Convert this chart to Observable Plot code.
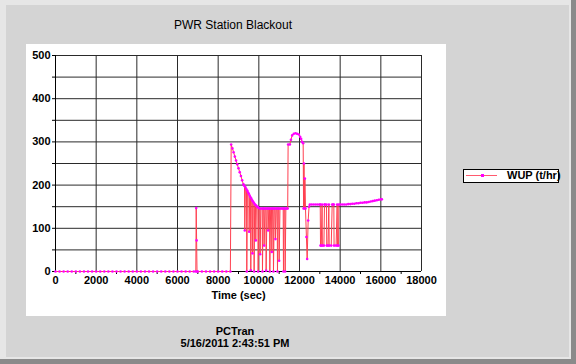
<!DOCTYPE html>
<html><head><meta charset="utf-8">
<script src="https://cdn.jsdelivr.net/npm/d3@7"></script>
<script src="https://cdn.jsdelivr.net/npm/@observablehq/plot@0.6"></script>
<style>
html,body{margin:0;padding:0;width:576px;height:364px;overflow:hidden;background:#8a8a8a;font-family:"Liberation Sans",Arial,sans-serif;color:#000;}
.abs{position:absolute;}
#outer{left:0;top:0;width:571px;height:359px;background:#e6e6e6;}
#panel{left:6px;top:5px;width:563px;height:352px;background:#d4d4d4;}
#white{left:26px;top:44px;width:420px;height:272px;background:#fff;}
#chart{left:26px;top:44px;}
#title{left:133px;width:200px;top:18px;text-align:center;font-size:12px;}
#legend{left:463px;top:169px;width:94px;height:12px;border:1px solid #000;background:#fff;}
#legend .ln{position:absolute;left:2px;top:5px;width:31px;height:1px;background:#ff5a6e;}
#legend .mk{position:absolute;left:17px;top:4px;width:3px;height:3px;background:#ff00ff;}
#legend .tx{position:absolute;left:43px;top:-1px;font-size:11px;font-weight:bold;white-space:nowrap;}
#footer{left:135px;width:200px;top:325px;text-align:center;font-size:11px;font-weight:bold;line-height:12px;}
</style></head>
<body>
<div id="outer" class="abs"></div>
<div id="panel" class="abs"></div>
<div id="white" class="abs"></div>
<div id="title" class="abs">PWR Station Blackout</div>
<div id="chart" class="abs"></div>
<div id="legend" class="abs"><div class="ln"></div><div class="mk"></div><div class="tx">WUP (t/hr)</div></div>
<div id="footer" class="abs">PCTran<br>5/16/2011 2:43:51 PM</div>
<script>
// [time (sec), WUP (t/hr)], by phase
const normalOperation = [[0,0],[200,0],[400,0],[600,0],[800,0],[1000,0],[1200,0],[1400,0],[1600,0],[1800,0],[2000,0],[2200,0],[2400,0],[2600,0],[2800,0],[3000,0],[3200,0],[3400,0],[3600,0],[3800,0],[4000,0],[4200,0],[4400,0],[4600,0],[4800,0],[5000,0],[5200,0],[5400,0],[5600,0],[5800,0],[6000,0],[6200,0],[6400,0],[6600,0],[6800,0],[6900,0],[6920,147],[6940,72],[6960,0],[7000,0],[7200,0],[7400,0],[7600,0],[7800,0],[8000,0],[8200,0],[8400,0],[8600,0]];
const pumpStart = [[8640,294],[8700,285],[8760,276],[8820,266],[8880,257],[8940,248],[9000,239],[9060,230],[9120,221],[9180,211],[9240,202],[9260,200]];
const cyclingA = [[9295,198],[9310,95],[9340,195],[9393,190],[9408,0],[9440,187],[9470,183],[9508,180],[9523,92],[9550,176],[9590,172],[9605,3],[9630,169],[9672,165],[9687,42],[9710,162],[9754,159],[9769,0],[9795,156],[9836,154],[9851,72],[9880,152],[9920,150],[9951,149],[9966,0],[10000,147],[10049,146],[10064,40],[10100,146],[10164,146],[10179,0],[10210,146],[10246,146],[10261,60],[10300,146],[10344,146],[10359,2],[10400,146],[10443,146],[10458,95],[10490,146],[10525,146],[10540,0],[10580,146],[10623,146],[10638,45],[10670,146],[10705,146],[10720,0],[10760,146],[10803,146],[10818,75],[10860,146],[10902,146],[10917,0],[10950,146],[10984,146],[10999,25],[11040,146],[11100,146],[11150,146],[11197,146],[11212,0],[11240,146],[11279,146],[11294,0],[11330,146],[11380,146],[11420,146]];
const hump = [[11440,294],[11525,294],[11580,305],[11639,315],[11720,319],[11803,320],[11880,319],[11967,317],[12030,312],[12082,307],[12130,300],[12180,297],[12200,146],[12220,250],[12245,146],[12265,215],[12295,146],[12340,80],[12377,29],[12426,118],[12470,150],[12508,155]];
const cyclingB = [[12600,155],[12700,155],[12800,155],[12900,155],[13000,155],[13020,155],[13033,60],[13070,60],[13110,155],[13125,60],[13200,60],[13230,155],[13250,155],[13328,155],[13340,60],[13400,60],[13443,155],[13460,60],[13560,60],[13607,155],[13650,155],[13689,155],[13700,60],[13800,60],[13852,155],[13870,60],[13920,60],[13934,155],[14000,155]];
const recovery = [[14100,155],[14200,155],[14300,155],[14400,156],[14500,156],[14600,157],[14700,157],[14800,158],[14900,158],[15000,159],[15100,159],[15200,160],[15300,160],[15400,161],[15500,162],[15600,163],[15700,164],[15800,165],[15900,166],[16000,167],[16050,167]];

const xLabelTicks = [0,2000,4000,6000,8000,10000,12000,14000,16000,18000];
const xMinorTicks = [1000,3000,5000,7000,9000,11000,13000,15000,17000];
const yLabelTicks = [0,100,200,300,400,500];
const yGridLines = [50,100,150,200,250,300,350,400,450,500];
const yMinorTicks = [50,150,250,350,450];

const data = [...normalOperation, ...pumpStart, ...cyclingA, ...hump, ...cyclingB, ...recovery]
  .map(([t, v]) => ({t, v}));

const chart = Plot.plot({
  width: 420, height: 272,
  marginLeft: 29, marginRight: 25, marginTop: 11, marginBottom: 45,
  style: {background: "transparent", fontFamily: "'Liberation Sans', Arial, sans-serif", fontSize: "11px", fontWeight: "bold", color: "#000"},
  x: {domain: [0, 18000], label: null},
  y: {domain: [0, 500], label: null},
  marks: [
    Plot.gridX(xLabelTicks.slice(1), {stroke: "#2a2a2a", strokeOpacity: 1}),
    Plot.gridY(yGridLines, {stroke: "#2a2a2a", strokeOpacity: 1}),
    Plot.axisX(xLabelTicks, {tickSize: 0, tickPadding: 5, tickFormat: d => String(d)}),
    Plot.axisX(xMinorTicks, {tickSize: 3, tickFormat: null, text: null}),
    Plot.axisY(yLabelTicks, {tickSize: 3, tickPadding: 2, tickFormat: d => String(d)}),
    Plot.axisY(yMinorTicks, {tickSize: 3, text: null}),
    Plot.ruleY([0], {stroke: "#000"}),
    Plot.ruleX([0], {stroke: "#000"}),
    Plot.line(data, {x: "t", y: "v", stroke: "#ff4050", strokeWidth: 1}),
    Plot.dot(data, {x: "t", y: "v", r: 1.3, fill: "#ff00ff", stroke: null}),
    Plot.text(["Time (sec)"], {frameAnchor: "bottom", dy: 27, fontSize: 11, fontWeight: "bold", fill: "#000"})
  ]
});
document.getElementById("chart").appendChild(chart);
</script>
</body></html>
